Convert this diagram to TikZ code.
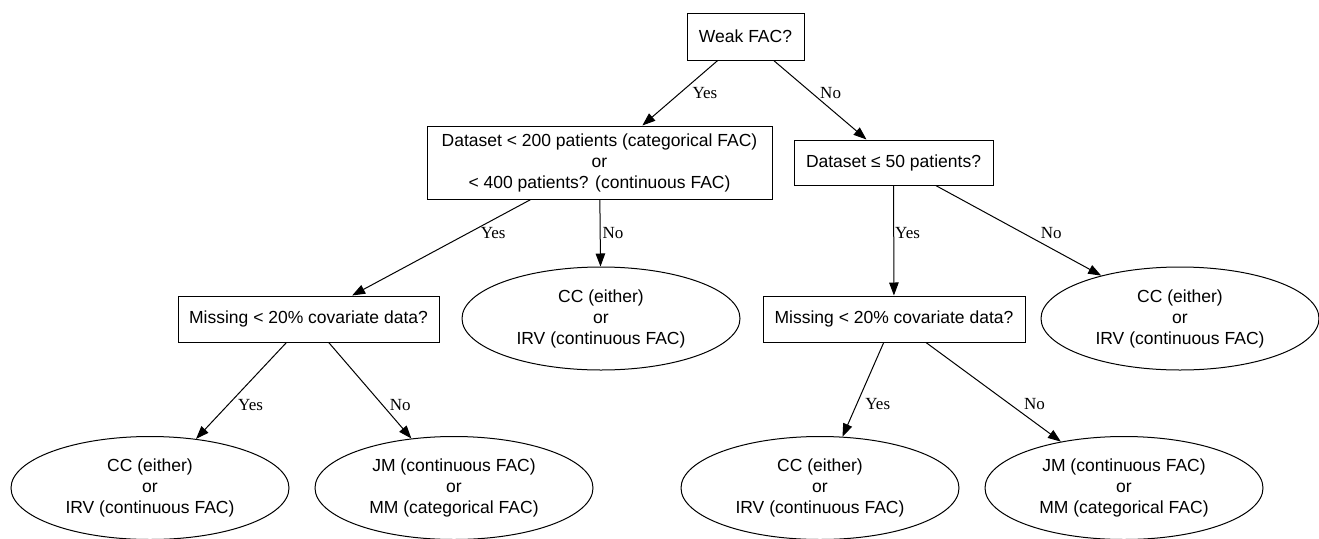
\documentclass[tikz,border=0pt]{standalone}
\usepackage{fontspec}
\setmainfont{Liberation Serif}
\setsansfont{Liberation Sans}
\usetikzlibrary{arrows.meta,shapes.geometric}

\begin{document}
\begin{tikzpicture}[->,>={Triangle[length=13pt,width=9.5pt]},x=1pt,y=-1pt,
      line width=1pt,
      box node/.style={rectangle,draw,inner sep=0pt,align=center,
        font=\sffamily\fontsize{17.5}{21}\selectfont},
      leaf node/.style={ellipse,draw,inner sep=0pt,align=center,
        minimum width=278pt,minimum height=103pt,
        font=\sffamily\fontsize{17.5}{21}\selectfont}]

      \useasboundingbox (0,0) rectangle (1319,538);

      \node[box node,minimum width=117pt,minimum height=47pt] (weak) at (745.5,36.5) {Weak FAC?};
      \node[box node,minimum width=345pt,minimum height=73pt] (big) at (599.5,162.5)
        {Dataset < 200 patients (categorical FAC)\\or\\< 400 patients? (continuous FAC)};
      \node[box node,minimum width=199pt,minimum height=45pt] (small) at (893.5,162.5) {Dataset ≤ 50 patients?};
      \node[box node,minimum width=261pt,minimum height=46pt] (missL) at (308.5,319) {Missing < 20\% covariate data?};
      \node[box node,minimum width=262pt,minimum height=46pt] (missR) at (894,319) {Missing < 20\% covariate data?};

      \node[leaf node] (ccA) at (601,318.5) {CC (either)\\or\\IRV (continuous FAC)};
      \node[leaf node] (ccB) at (1180,318.5) {CC (either)\\or\\IRV (continuous FAC)};
      \node[leaf node] (ccC) at (150,488) {CC (either)\\or\\IRV (continuous FAC)};
      \node[leaf node] (jmA) at (454,488) {JM (continuous FAC)\\or\\MM (categorical FAC)};
      \node[leaf node] (ccD) at (820,488) {CC (either)\\or\\IRV (continuous FAC)};
      \node[leaf node] (jmB) at (1124,488) {JM (continuous FAC)\\or\\MM (categorical FAC)};

      \path[every node/.style={font=\fontsize{17}{20}\selectfont,inner sep=0pt}]
      (weak) edge node[pos=.5,right=12pt] {Yes} (big)
      (weak) edge node[pos=.41,right=8pt] {No} (small)
      (big) edge node[pos=.35,right=12pt] {Yes} (missL)
      (big) edge node[pos=.5,right=2pt] {No} (ccA)
      (small) edge node[pos=.43,right=1pt] {Yes} (missR)
      (small) edge node[pos=.53,right=17pt] {No} (ccB)
      (missL) edge node[pos=.65,right=10pt] {Yes} (ccC)
      (missL) edge node[pos=.65,right=7pt] {No} (jmA)
      (missR) edge node[pos=.65,right=8pt] {Yes} (ccD)
      (missR) edge node[pos=.62,right=14pt] {No} (jmB);
    \end{tikzpicture}
\end{document}
